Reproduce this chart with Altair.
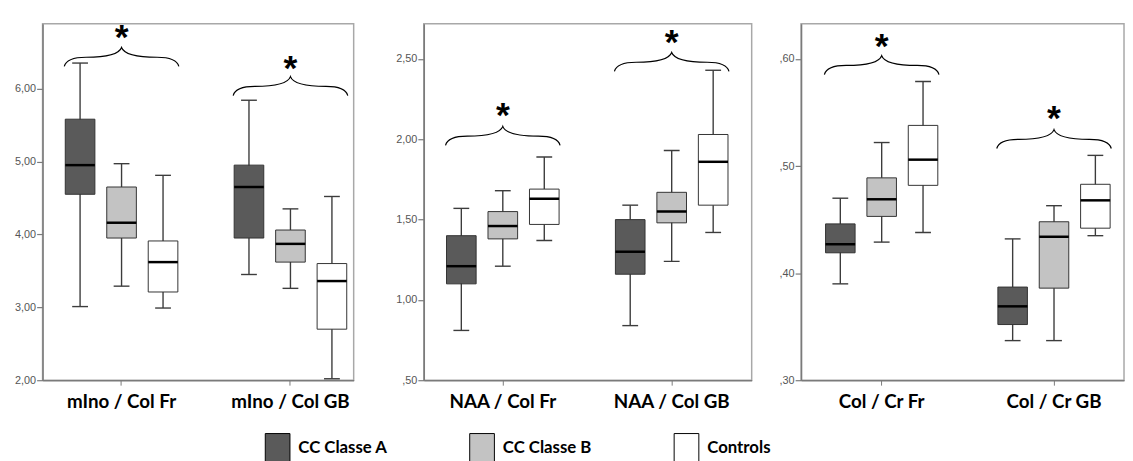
import altair as alt
import pandas as pd

groups = ["CC Classe A", "CC Classe B", "Controls"]
fills = ["#5a5a5a", "#c3c3c3", "#ffffff"]

# Panel 1
cats1 = ["mIno / Col Fr", "mIno / Col GB"]
low1 = [3.01, 3.29, 2.99, 3.45, 3.26, 2.02]
q1_1 = [4.55, 3.95, 3.21, 3.95, 3.62, 2.70]
med1 = [4.95, 4.16, 3.62, 4.65, 3.87, 3.36]
q3_1 = [5.58, 4.65, 3.91, 4.95, 4.06, 3.60]
high1 = [6.35, 4.97, 4.81, 5.84, 4.35, 4.52]
brace1 = [6.43, 6.03]
star1 = [6.73, 6.31]
ticks1 = [2.0, 3.0, 4.0, 5.0, 6.0]

# Panel 2
cats2 = ["NAA / Col Fr", "NAA / Col GB"]
low2 = [0.81, 1.21, 1.37, 0.84, 1.24, 1.42]
q1_2 = [1.10, 1.38, 1.47, 1.16, 1.48, 1.59]
med2 = [1.21, 1.46, 1.63, 1.30, 1.55, 1.86]
q3_2 = [1.40, 1.55, 1.69, 1.50, 1.67, 2.03]
high2 = [1.57, 1.68, 1.89, 1.59, 1.93, 2.43]
brace2 = [2.02, 2.48]
star2 = [2.16, 2.62]
ticks2 = [0.5, 1.0, 1.5, 2.0, 2.5]

# Panel 3
cats3 = ["Col / Cr Fr", "Col / Cr GB"]
low3 = [0.390, 0.429, 0.438, 0.337, 0.337, 0.435]
q1_3 = [0.419, 0.453, 0.482, 0.352, 0.386, 0.442]
med3 = [0.427, 0.469, 0.506, 0.369, 0.434, 0.468]
q3_3 = [0.446, 0.489, 0.538, 0.387, 0.448, 0.483]
high3 = [0.470, 0.522, 0.579, 0.432, 0.463, 0.510]
brace3 = [0.594, 0.525]
star3 = [0.614, 0.547]
ticks3 = [0.3, 0.4, 0.5, 0.6]

BRACE = ("M -1 0.16 Q -0.96 0 -0.62 0 Q -0.06 0 0 -0.17 "
         "Q 0.06 0 0.62 0 Q 0.96 0 1 0.16")
LEGEND_RECT = "M -1 -1.2 L 1 -1.2 L 1 1.2 L -1 1.2 Z"

AXC = "#7a7a7a"
LABEL_EXPR = ("datum.value < 1 ? replace(format(datum.value, '.2f'), '0.', ',') "
              ": replace(format(datum.value, '.2f'), '.', ',')")


def panel(cats, low, q1, med, q3, high, brace, star, ydom, yticks,
          width, pi, po, align, show_legend):
    df = pd.DataFrame({
        "cat": [c for c in cats for _ in groups],
        "grp": groups * len(cats),
        "low": low, "q1": q1, "med": med, "q3": q3, "high": high,
    })
    ann = pd.DataFrame({"cat": cats, "brace": brace, "star": star})

    xaxis = alt.Axis(title=None, labelAngle=0, labelFont="Lato",
                     labelFontWeight="bold", labelFontSize=19,
                     labelColor="black", tickSize=5, tickColor=AXC,
                     domainColor=AXC, domainWidth=1.5, labelPadding=8)
    xenc = alt.X("cat:N", sort=cats, axis=xaxis,
                 scale=alt.Scale(paddingInner=pi, paddingOuter=po, align=align))
    xoff = alt.XOffset("grp:N", sort=groups,
                       scale=alt.Scale(paddingInner=0.286, paddingOuter=0.143))
    yscale = alt.Scale(domain=ydom, nice=False, zero=False)
    yaxis = alt.Axis(title=None, values=yticks, labelExpr=LABEL_EXPR,
                     tickSize=6, labelPadding=1, labelFont="Liberation Sans",
                     labelFontSize=11, labelColor="#555555", domainColor=AXC,
                     domainWidth=1.5, tickColor=AXC, tickWidth=1.2,
                     grid=False)

    def Y(f):
        return alt.Y(f + ":Q", scale=yscale, axis=yaxis)

    base = alt.Chart(df).encode(x=xenc, xOffset=xoff)
    whisk = base.mark_rule(color="#3c3c3c", strokeWidth=1.4).encode(
        y=Y("low"), y2="high:Q")
    legend = alt.Legend(title=None, orient="none", legendX=225, legendY=417,
                        direction="horizontal", symbolType=LEGEND_RECT,
                        symbolSize=625, symbolStrokeColor="black",
                        symbolStrokeWidth=1, symbolOpacity=1,
                        labelFont="Lato", labelFontWeight="bold",
                        labelFontSize=17, labelColor="black", labelOffset=8,
                        columnPadding=80, gridAlign="all", padding=0)
    box = base.mark_bar(stroke="#333333", strokeWidth=1, opacity=1).encode(
        y=Y("q1"), y2="q3:Q",
        color=alt.Color("grp:N", sort=groups,
                        scale=alt.Scale(domain=groups, range=fills),
                        legend=legend if show_legend else None))
    medt = base.mark_tick(color="black", thickness=2.5, size=30, opacity=1).encode(
        y=Y("med"))
    caplo = base.mark_tick(color="#3c3c3c", thickness=1.4, size=16, opacity=1).encode(
        y=Y("low"))
    caphi = base.mark_tick(color="#3c3c3c", thickness=1.4, size=16, opacity=1).encode(
        y=Y("high"))
    abase = alt.Chart(ann).encode(x=xenc)
    braces = abase.mark_point(shape=BRACE, size=13456, filled=False,
                              color="black", strokeWidth=1.2,
                              opacity=1).encode(y=Y("brace"))
    stars = abase.mark_text(text="*", font="Liberation Sans", fontWeight="bold",
                            fontSize=36, dy=14, baseline="alphabetic",
                            color="black").encode(y=Y("star"))
    return alt.layer(whisk, box, medt, caplo, caphi, braces, stars).properties(
        width=width, height=361)


p1 = panel(cats1, low1, q1_1, med1, q3_1, high1, brace1, star1, [2.0, 6.89],
           ticks1, 315, 0.2632, 0.0526, 0.944, True)
p2 = panel(cats2, low2, q1_2, med2, q3_2, high2, brace2, star2, [0.5, 2.72],
           ticks2, 332, 0.2632, 0.1023, 0.486, False)
p3 = panel(cats3, low3, q1_3, med3, q3_3, high3, brace3, star3, [0.3, 0.633],
           ticks3, 327, 0.28, 0.077, 0.70, False)

inner = alt.hconcat(p1, p2, spacing=40).resolve_scale(
    x="independent", y="independent", xOffset="independent", color="shared")

chart = alt.hconcat(inner, p3, spacing=25).resolve_scale(
    x="independent", y="independent", xOffset="independent", color="shared"
).properties(
    padding={"left": 5, "top": 9, "right": 0, "bottom": 0}
).configure_view(stroke="#a8a8a8", strokeWidth=1.5)

chart.save("out.html", embed_options={"renderer": "svg", "actions": False})
